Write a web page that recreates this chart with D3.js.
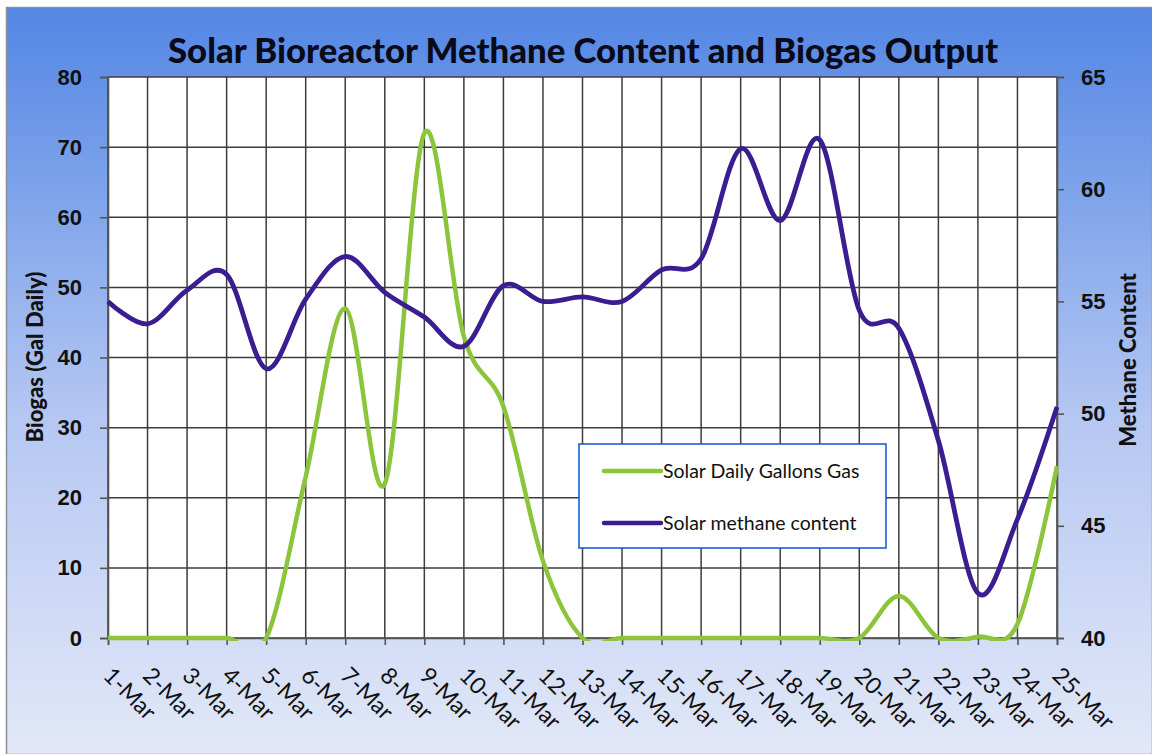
<!DOCTYPE html>
<html>
<head>
<meta charset="utf-8">
<script src="https://cdn.jsdelivr.net/npm/d3@7"></script>
<style>
  body { margin: 0; background: #fff; }
  svg { display: block; font-family: Lato, "Open Sans", sans-serif; }
</style>
</head>
<body>
<div id="chart"></div>
<script>
// data
var days = ["1-Mar", "2-Mar", "3-Mar", "4-Mar", "5-Mar", "6-Mar", "7-Mar", "8-Mar", "9-Mar",
  "10-Mar", "11-Mar", "12-Mar", "13-Mar", "14-Mar", "15-Mar", "16-Mar", "17-Mar", "18-Mar",
  "19-Mar", "20-Mar", "21-Mar", "22-Mar", "23-Mar", "24-Mar", "25-Mar"];
var biogas = [0, 0, 0, 0, 0, 23, 47, 22, 72, 43, 33, 11, 0, 0, 0, 0, 0, 0, 0, 0, 6, 0, 0.2, 2, 24.5];
var methane = [55, 54, 55.5, 56.2, 52, 55.1, 57, 55.4, 54.3, 53, 55.7, 55, 55.2, 55, 56.4, 56.9,
  61.8, 58.6, 62.2, 54.6, 53.8, 48.8, 42, 45.3, 50.3];
var biogasTicks = [0, 10, 20, 30, 40, 50, 60, 70, 80];
var methaneTicks = [40, 45, 50, 55, 60, 65];

var width = 1152, height = 754;
var margin = {top: 77, right: 95, bottom: 116, left: 108};
var plotW = width - margin.left - margin.right,
    plotH = height - margin.top - margin.bottom;

var greenColor = "#8cc43c", purpleColor = "#3a1d90";

var svg = d3.select("#chart").append("svg")
    .attr("width", width)
    .attr("height", height);

// background gradient
var defs = svg.append("defs");
var grad = defs.append("linearGradient")
    .attr("id", "bg")
    .attr("x1", 0).attr("y1", 0).attr("x2", 0).attr("y2", 1);
grad.append("stop").attr("offset", "0%").attr("stop-color", "#5386e4");
grad.append("stop").attr("offset", "22%").attr("stop-color", "#79a0ea");
grad.append("stop").attr("offset", "55%").attr("stop-color", "#b5c7f2");
grad.append("stop").attr("offset", "100%").attr("stop-color", "#e2e8f8");

defs.append("clipPath").attr("id", "plotclip")
  .append("rect")
    .attr("x", -2).attr("y", -6)
    .attr("width", plotW + 4).attr("height", plotH + 9);

svg.append("rect")
    .attr("x", 6.5).attr("y", 7.5)
    .attr("width", width - 6).attr("height", height - 7)
    .attr("fill", "url(#bg)")
    .attr("stroke", "#8a8f99")
    .attr("stroke-width", 1.5);

var g = svg.append("g")
    .attr("transform", "translate(" + margin.left + "," + margin.top + ")");

// scales
var x = d3.scalePoint().domain(days).range([0, plotW]);
var yLeft = d3.scaleLinear().domain([0, 80]).range([plotH, 0]);
var yRight = d3.scaleLinear().domain([40, 65]).range([plotH, 0]);

// plot area
g.append("rect")
    .attr("width", plotW).attr("height", plotH)
    .attr("fill", "#fff");

// gridlines
g.append("g")
    .selectAll("line.h")
    .data(biogasTicks)
    .enter().append("line")
    .attr("x1", 0).attr("x2", plotW)
    .attr("y1", function(d) { return yLeft(d); })
    .attr("y2", function(d) { return yLeft(d); })
    .attr("stroke", "#3c3c3c")
    .attr("stroke-width", 1.5);

g.append("g")
    .selectAll("line.v")
    .data(days)
    .enter().append("line")
    .attr("x1", function(d) { return x(d); })
    .attr("x2", function(d) { return x(d); })
    .attr("y1", 0).attr("y2", plotH)
    .attr("stroke", "#3c3c3c")
    .attr("stroke-width", 1.5);

// axes
var leftAxis = g.append("g")
    .call(d3.axisLeft(yLeft).tickValues(biogasTicks).tickSize(8).tickPadding(18));
var rightAxis = g.append("g")
    .attr("transform", "translate(" + plotW + ",0)")
    .call(d3.axisRight(yRight).tickValues(methaneTicks).tickSize(7).tickPadding(17));
var bottomAxis = g.append("g")
    .attr("transform", "translate(0," + plotH + ")")
    .call(d3.axisBottom(x).tickSize(7).tickFormat(""));

[leftAxis, rightAxis, bottomAxis].forEach(function(a) {
  a.select(".domain").attr("stroke", "#555").attr("stroke-width", 1.6);
  a.selectAll(".tick line").attr("stroke", "#555").attr("stroke-width", 1.6);
});
leftAxis.selectAll(".tick text").attr("font-size", 22).attr("font-weight", "bold").attr("fill", "#111");
rightAxis.selectAll(".tick text").attr("font-size", 22).attr("font-weight", "bold").attr("fill", "#111");

// rotated day labels
g.append("g")
    .selectAll("text")
    .data(days)
    .enter().append("text")
    .attr("transform", function(d) {
      return "translate(" + (x(d) - 6) + "," + (plotH + 39) + ") rotate(45)";
    })
    .attr("font-size", 23)
    .attr("fill", "#111")
    .text(function(d) { return d; });

// lines
var greenLine = d3.line()
    .x(function(d, i) { return x(days[i]); })
    .y(function(d) { return yLeft(d); })
    .curve(d3.curveCardinal.tension(0));
var purpleLine = d3.line()
    .x(function(d, i) { return x(days[i]); })
    .y(function(d) { return yRight(d); })
    .curve(d3.curveCardinal.tension(0));

var lines = g.append("g").attr("clip-path", "url(#plotclip)");
lines.append("path")
    .datum(biogas)
    .attr("d", greenLine)
    .attr("fill", "none")
    .attr("stroke", greenColor)
    .attr("stroke-width", 4.5)
    .attr("stroke-linejoin", "round");
lines.append("path")
    .datum(methane)
    .attr("d", purpleLine)
    .attr("fill", "none")
    .attr("stroke", purpleColor)
    .attr("stroke-width", 4.8)
    .attr("stroke-linejoin", "round");

// title and axis titles
svg.append("text")
    .attr("x", 583).attr("y", 63)
    .attr("text-anchor", "middle")
    .attr("font-size", 34)
    .attr("font-weight", 900)
    .attr("textLength", 830)
    .attr("lengthAdjust", "spacingAndGlyphs")
    .attr("fill", "#0a0a18")
    .text("Solar Bioreactor Methane Content and Biogas Output");

svg.append("text")
    .attr("transform", "translate(43,357) rotate(-90)")
    .attr("text-anchor", "middle")
    .attr("font-size", 22)
    .attr("font-weight", 900)
    .attr("fill", "#111")
    .text("Biogas (Gal Daily)");

svg.append("text")
    .attr("transform", "translate(1136,360) rotate(-90)")
    .attr("text-anchor", "middle")
    .attr("font-size", 22)
    .attr("font-weight", 900)
    .attr("fill", "#111")
    .text("Methane Content");

// legend
var legend = svg.append("g").attr("transform", "translate(579,444)");
legend.append("rect")
    .attr("width", 307).attr("height", 104)
    .attr("fill", "#fff")
    .attr("stroke", "#1d5fd4")
    .attr("stroke-width", 1.6);

var legendItems = [
  {name: "Solar Daily Gallons Gas", color: greenColor},
  {name: "Solar methane content", color: purpleColor}
];
var item = legend.selectAll(".item")
    .data(legendItems)
    .enter().append("g")
    .attr("transform", function(d, i) { return "translate(0," + (27 + i * 52) + ")"; });
item.append("line")
    .attr("x1", 25).attr("x2", 82)
    .attr("stroke", function(d) { return d.color; })
    .attr("stroke-width", 4.5)
    .attr("stroke-linecap", "round");
item.append("text")
    .attr("x", 84).attr("dy", "0.35em")
    .attr("font-size", 19.5)
    .attr("fill", "#111")
    .text(function(d) { return d.name; });
</script>
</body>
</html>
